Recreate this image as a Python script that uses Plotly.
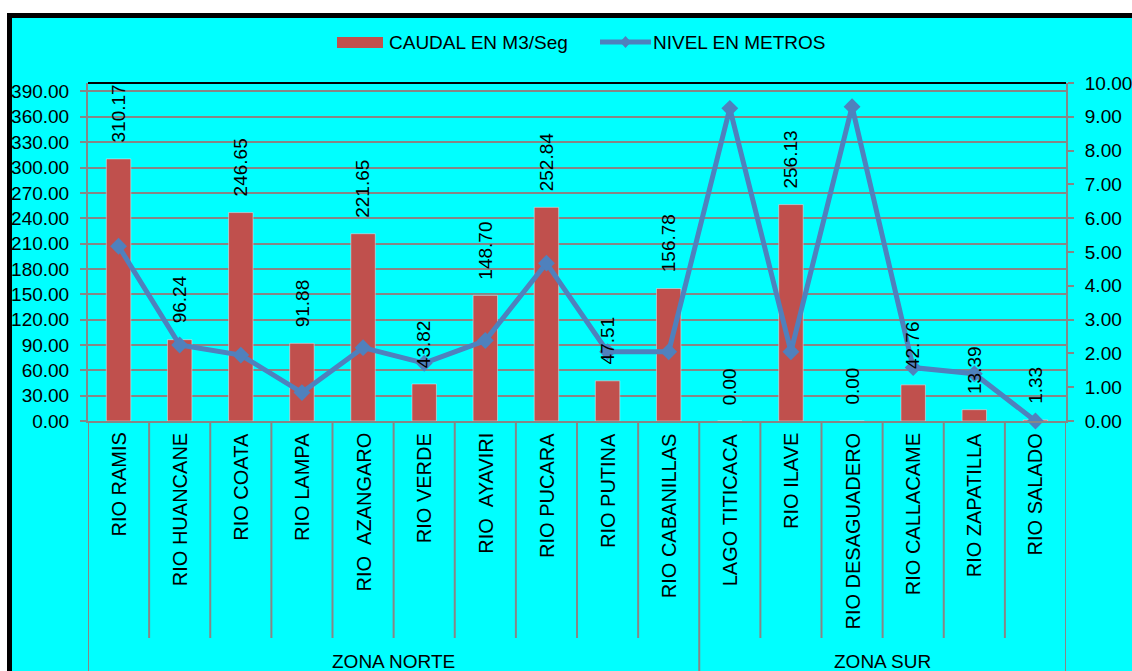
import plotly.graph_objects as go

# Flow (m3/s) and level (m) per water body, grouped by zone
rios = ["RIO RAMIS", "RIO HUANCANE", "RIO COATA", "RIO LAMPA", "RIO  AZANGARO",
        "RIO VERDE", "RIO  AYAVIRI", "RIO PUCARA", "RIO PUTINA", "RIO CABANILLAS",
        "LAGO TITICACA", "RIO ILAVE", "RIO DESAGUADERO", "RIO CALLACAME",
        "RIO ZAPATILLA", "RIO SALADO"]
zonas = ["ZONA NORTE"] * 10 + ["ZONA SUR"] * 6
caudal = [310.17, 96.24, 246.65, 91.88, 221.65, 43.82, 148.70, 252.84, 47.51,
          156.78, 0.00, 256.13, 0.00, 42.76, 13.39, 1.33]
nivel = [5.17, 2.25, 1.95, 0.84, 2.17, 1.71, 2.38, 4.67, 2.05,
         2.05, 9.25, 2.05, 9.30, 1.58, 1.40, 0.00]

W, H = 1132, 671
ML, MR, MT, MB = 88, 66, 83, 250
PW, PH = W - ML - MR, H - MT - MB
FONT = "Arial, Liberation Sans, sans-serif"
RED = "#C0504D"
BLUE = "#4F81BD"
GRID = "rgb(134,134,134)"


def px(xp):
    return (xp - ML) / PW


def py(yp):
    return (H - MB - yp) / PH


idx = list(range(len(rios)))

fig = go.Figure()
fig.add_trace(go.Bar(x=idx, y=caudal, marker_color=RED, name="CAUDAL EN M3/Seg",
                     yaxis="y", showlegend=False))
fig.add_trace(go.Scatter(x=idx, y=nivel, mode="lines+markers", name="NIVEL EN METROS",
                         yaxis="y2", line=dict(color=BLUE, width=5),
                         marker=dict(symbol="diamond", size=13, color=BLUE),
                         showlegend=False, cliponaxis=False))

shapes = []
annotations = []

# Frame: cyan panel with black border
shapes.append(dict(type="rect", xref="paper", yref="paper",
                   x0=px(9.5), x1=px(1145), y0=py(15.5), y1=py(690),
                   line=dict(color="black", width=5), fillcolor="#00FFFF", layer="below"))
# Top border of the plot area
shapes.append(dict(type="line", xref="paper", yref="paper", x0=0, x1=1, y0=1, y1=1,
                   line=dict(color="black", width=2), layer="above"))

# Category dividers below the axis; zone boundaries run to the bottom
for b in range(len(rios) + 1):
    left = zonas[b - 1] if b > 0 else None
    right = zonas[b] if b < len(rios) else None
    full = left != right
    shapes.append(dict(type="line", xref="x", yref="paper", x0=b - 0.5, x1=b - 0.5,
                       y0=0, y1=py(700) if full else py(638),
                       line=dict(color=GRID, width=2), layer="above"))

# Zone labels
for z in dict.fromkeys(zonas):
    members = [i for i, zz in enumerate(zonas) if zz == z]
    annotations.append(dict(x=sum(members) / len(members), xref="x", y=py(661), yref="paper",
                            text=z, showarrow=False, yanchor="middle",
                            font=dict(family=FONT, size=19, color="black")))

# Category labels (rotated)
for i, r in enumerate(rios):
    annotations.append(dict(x=i, xref="x", y=py(431), yref="paper",
                            text=r.replace(" ", "&nbsp;"), textangle=-90, showarrow=False,
                            yanchor="top", xanchor="center",
                            font=dict(family=FONT, size=20, color="black")))

# Value labels above bars
for i, v in enumerate(caudal):
    annotations.append(dict(x=i, xref="x", y=v, yref="y", text=f"{v:.2f}",
                            textangle=-90, showarrow=False, yanchor="bottom",
                            xanchor="center", yshift=14,
                            font=dict(family=FONT, size=19, color="black")))

# Legend
shapes.append(dict(type="rect", xref="paper", yref="paper",
                   x0=px(337), x1=px(383), y0=py(48), y1=py(37),
                   fillcolor=RED, line=dict(width=0)))
annotations.append(dict(x=px(387), y=py(42.5), xref="paper", yref="paper",
                        text="CAUDAL EN M3/Seg", showarrow=False, xanchor="left",
                        yanchor="middle", font=dict(family=FONT, size=19, color="black")))
shapes.append(dict(type="line", xref="paper", yref="paper",
                   x0=px(600), x1=px(651), y0=py(42), y1=py(42),
                   line=dict(color=BLUE, width=5)))
shapes.append(dict(type="path", xref="paper", yref="paper",
                   path=(f"M {px(625.5)},{py(36)} L {px(631)},{py(42)} "
                         f"L {px(625.5)},{py(48)} L {px(620)},{py(42)} Z"),
                   fillcolor=BLUE, line=dict(width=0)))
annotations.append(dict(x=px(651), y=py(42.5), xref="paper", yref="paper",
                        text="NIVEL EN METROS", showarrow=False, xanchor="left",
                        yanchor="middle", font=dict(family=FONT, size=19, color="black")))

fig.update_layout(
    width=W, height=H,
    margin=dict(l=ML, r=MR, t=MT, b=MB, pad=0),
    paper_bgcolor="white", plot_bgcolor="white",
    bargap=0.6, showlegend=False,
    xaxis=dict(range=[-0.5, len(rios) - 0.5], showticklabels=False, ticks="",
               showgrid=False, zeroline=False, showline=True, linecolor=GRID,
               linewidth=2, automargin=False),
    yaxis=dict(range=[0, 400], tick0=0, dtick=30, tickformat=".2f",
               showgrid=True, gridcolor=GRID, gridwidth=2, zeroline=False,
               showline=True, linecolor=GRID, linewidth=2, ticks="outside",
               ticklen=6, tickcolor=GRID, tickwidth=2, ticklabelstandoff=7,
               tickfont=dict(family=FONT, size=19, color="black"), automargin=False),
    yaxis2=dict(range=[0, 10], tick0=0, dtick=1, tickformat=".2f", overlaying="y",
                side="right", showgrid=False, zeroline=False, showline=True,
                linecolor=GRID, linewidth=2, ticks="outside", ticklen=6,
                tickcolor=GRID, tickwidth=2, ticklabelstandoff=7,
                tickfont=dict(family=FONT, size=19, color="black"), automargin=False),
    shapes=shapes, annotations=annotations,
)

fig.write_html("out.html")
